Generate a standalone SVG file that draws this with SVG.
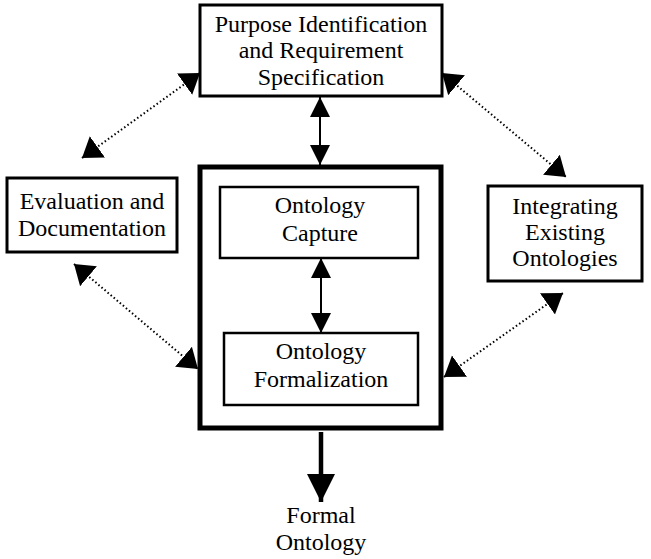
<svg xmlns="http://www.w3.org/2000/svg" width="651" height="559" viewBox="0 0 651 559">
  <defs>
    <style>
      .box { fill: #fff; stroke: #000; stroke-width: 3; }
      .inner { fill: #fff; stroke: #000; stroke-width: 2.5; }
      .frame { fill: none; stroke: #000; stroke-width: 5; }
      .lbl { font-family: "Liberation Serif", "Times New Roman", serif; font-size: 24px; fill: #000; text-anchor: middle; }
      .dot { stroke: #000; stroke-width: 2; stroke-dasharray: 1.5 2.5; fill: none; }
      .solid { stroke: #000; stroke-width: 2; fill: none; }
      .thick { stroke: #000; stroke-width: 4.5; fill: none; }
    </style>
    <marker id="headDiag" markerUnits="userSpaceOnUse" markerWidth="20" markerHeight="28" refX="19" refY="13" orient="auto-start-reverse" viewBox="0 0 20 26">
      <path d="M0,0 L19,13 L0,26 Z" fill="#000"/>
    </marker>
    <marker id="headV" markerUnits="userSpaceOnUse" markerWidth="21" markerHeight="21" refX="20" refY="10" orient="auto-start-reverse" viewBox="0 0 21 20">
      <path d="M0,0 L20,10 L0,20 Z" fill="#000"/>
    </marker>
    <marker id="headBig" markerUnits="userSpaceOnUse" markerWidth="29" markerHeight="29" refX="28" refY="14" orient="auto" viewBox="0 0 29 28">
      <path d="M0,0 L28,14 L0,28 Z" fill="#000"/>
    </marker>
  </defs>

  <!-- connectors -->
  <g id="connectors">
    <line class="dot" x1="82" y1="158" x2="200" y2="73" marker-start="url(#headDiag)" marker-end="url(#headDiag)"/>
    <line class="dot" x1="442" y1="73" x2="566" y2="177" marker-start="url(#headDiag)" marker-end="url(#headDiag)"/>
    <line class="dot" x1="74" y1="264" x2="198" y2="369" marker-start="url(#headDiag)" marker-end="url(#headDiag)"/>
    <line class="dot" x1="444" y1="377" x2="563" y2="293" marker-start="url(#headDiag)" marker-end="url(#headDiag)"/>
    <line class="solid" x1="320" y1="97" x2="320" y2="165" marker-start="url(#headV)" marker-end="url(#headV)"/>
    <line class="solid" x1="321" y1="258" x2="321" y2="333" marker-start="url(#headV)" marker-end="url(#headV)"/>
    <line class="thick" x1="321" y1="432" x2="321" y2="502" marker-end="url(#headBig)"/>
  </g>

  <g id="purpose">
    <rect class="box" x="200" y="5" width="242" height="91"/>
    <text class="lbl" x="321" y="32">Purpose Identification</text>
    <text class="lbl" x="321" y="58">and Requirement</text>
    <text class="lbl" x="321" y="85">Specification</text>
  </g>

  <g id="evaluation">
    <rect class="box" x="7" y="178" width="170" height="74"/>
    <text class="lbl" x="92" y="209">Evaluation and</text>
    <text class="lbl" x="92" y="236">Documentation</text>
  </g>

  <g id="integrating">
    <rect class="box" x="488" y="186" width="154" height="95"/>
    <text class="lbl" x="565" y="214">Integrating</text>
    <text class="lbl" x="565" y="240">Existing</text>
    <text class="lbl" x="565" y="266">Ontologies</text>
  </g>

  <g id="core">
    <rect class="frame" x="200" y="167" width="241" height="261"/>
  </g>

  <g id="capture">
    <rect class="inner" x="220" y="187" width="198" height="71"/>
    <text class="lbl" x="320" y="213">Ontology</text>
    <text class="lbl" x="320" y="241">Capture</text>
  </g>

  <g id="formalization">
    <rect class="inner" x="224" y="333" width="194" height="72"/>
    <text class="lbl" x="321" y="359">Ontology</text>
    <text class="lbl" x="321" y="387">Formalization</text>
  </g>

  <g id="formal-ontology">
    <text class="lbl" x="321" y="523">Formal</text>
    <text class="lbl" x="321" y="550">Ontology</text>
  </g>
</svg>
